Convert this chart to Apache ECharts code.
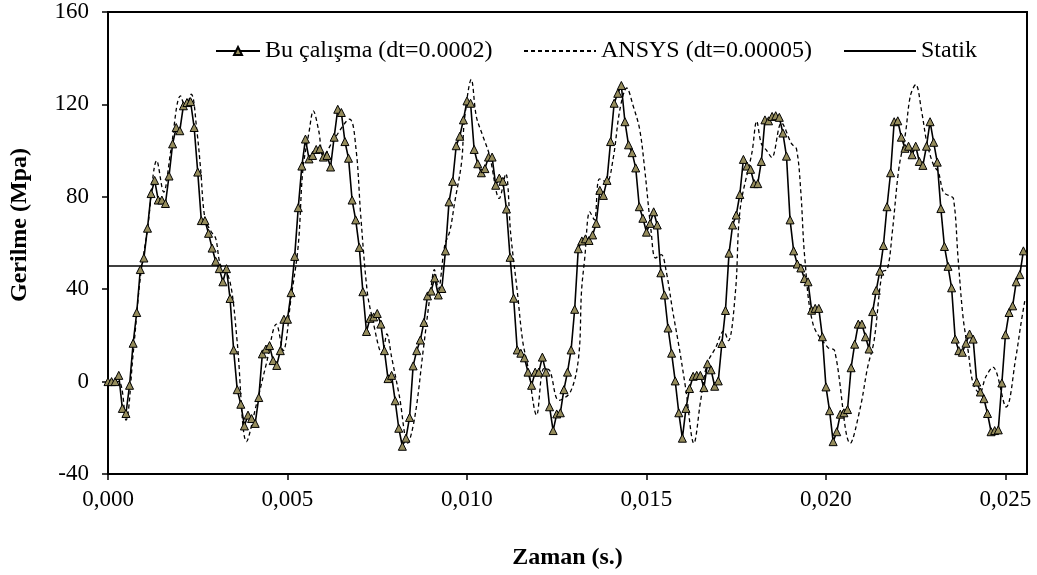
<!DOCTYPE html>
<html>
<head>
<meta charset="utf-8">
<title>Gerilme - Zaman</title>
<script src="https://cdn.jsdelivr.net/npm/echarts@6/dist/echarts.min.js"></script>
<style>
  html, body { margin: 0; padding: 0; background: #fff; }
  #chart { width: 1037px; height: 575px; }
</style>
</head>
<body>
<div id="chart"></div>
<script>
// zaman ekseni ms cinsinden tutuluyor, etiketler saniyeye çevriliyor
const studyTime = [
  0, 0.1, 0.2, 0.3, 0.4, 0.5, 0.6, 0.7, 0.8, 0.9,
  1.0, 1.1, 1.2, 1.3, 1.4, 1.5, 1.6, 1.7, 1.8, 1.9,
  2.0, 2.1, 2.2, 2.3, 2.4, 2.5, 2.6, 2.7, 2.8, 2.9,
  3.0, 3.1, 3.2, 3.3, 3.4, 3.5, 3.6, 3.7, 3.8, 3.9,
  4.0, 4.1, 4.2, 4.3, 4.4, 4.5, 4.6, 4.7, 4.8, 4.9,
  5.0, 5.1, 5.2, 5.3, 5.4, 5.5, 5.6, 5.7, 5.8, 5.9,
  6.0, 6.1, 6.2, 6.3, 6.4, 6.5, 6.6, 6.7, 6.8, 6.9,
  7.0, 7.1, 7.2, 7.3, 7.4, 7.5, 7.6, 7.7, 7.8, 7.9,
  8.0, 8.1, 8.2, 8.3, 8.4, 8.5, 8.6, 8.7, 8.8, 8.9,
  9.0, 9.1, 9.2, 9.3, 9.4, 9.5, 9.6, 9.7, 9.8, 9.9,
  10.0, 10.1, 10.2, 10.3, 10.4, 10.5, 10.6, 10.7, 10.8, 10.9,
  11.0, 11.1, 11.2, 11.3, 11.4, 11.5, 11.6, 11.7, 11.8, 11.9,
  12.0, 12.1, 12.2, 12.3, 12.4, 12.5, 12.6, 12.7, 12.8, 12.9,
  13.0, 13.1, 13.2, 13.3, 13.4, 13.5, 13.6, 13.7, 13.8, 13.9,
  14.0, 14.1, 14.2, 14.3, 14.4, 14.5, 14.6, 14.7, 14.8, 14.9,
  15.0, 15.1, 15.2, 15.3, 15.4, 15.5, 15.6, 15.7, 15.8, 15.9,
  16.0, 16.1, 16.2, 16.3, 16.4, 16.5, 16.6, 16.7, 16.8, 16.9,
  17.0, 17.1, 17.2, 17.3, 17.4, 17.5, 17.6, 17.7, 17.8, 17.9,
  18.0, 18.1, 18.2, 18.3, 18.4, 18.5, 18.6, 18.7, 18.8, 18.9,
  19.0, 19.1, 19.2, 19.3, 19.4, 19.5, 19.6, 19.7, 19.8, 19.9,
  20.0, 20.1, 20.2, 20.3, 20.4, 20.5, 20.6, 20.7, 20.8, 20.9,
  21.0, 21.1, 21.2, 21.3, 21.4, 21.5, 21.6, 21.7, 21.8, 21.9,
  22.0, 22.1, 22.2, 22.3, 22.4, 22.5, 22.6, 22.7, 22.8, 22.9,
  23.0, 23.1, 23.2, 23.3, 23.4, 23.5, 23.6, 23.7, 23.8, 23.9,
  24.0, 24.1, 24.2, 24.3, 24.4, 24.5, 24.6, 24.7, 24.8, 24.9,
  25.0, 25.1, 25.2, 25.3, 25.4, 25.5
]
const studyStress = [
  0, 0, 0, 2.7, -11.6, -13.8, -1.6, 16.6, 29.9, 48.5,
  53.5, 66.4, 81.4, 87.1, 78.6, 78.6, 77.1, 89, 102.9, 110,
  108.6, 119.4, 120.8, 121.2, 110, 90.7, 69.7, 69.7, 64.2, 57.8,
  52.1, 48.9, 43.2, 48.9, 36, 13.7, -3.5, -9.8, -19.2, -14.5,
  -16, -18.1, -6.9, 12, 14.1, 15.6, 9.1, 7, 13.4, 27,
  27, 38.5, 54.2, 75.3, 93.3, 105, 96.4, 97.9, 100.5, 100.8,
  97.2, 97.9, 92.9, 105.8, 117.9, 116.5, 103.9, 96.7, 78.6, 70,
  58.1, 38.9, 21.7, 27.4, 28, 29.5, 24.9, 13.4, 1.3, 2.7,
  -8.3, -20.2, -28, -24.5, -15.5, 6.8, 13.4, 18, 25.6, 37.1,
  39.2, 44.9, 37.5, 40.3, 56.6, 77.8, 86.7, 102.1, 106.2, 113.3,
  121.5, 120.5, 100.5, 94.3, 90.4, 92.2, 97.2, 97.2, 85, 88.1,
  86.7, 74.7, 53.8, 36.1, 13.7, 12.3, 10.3, 4.1, -1.6, 4.1,
  4.1, 10.6, 4.1, -10.9, -21.2, -14, -13.5, -3.5, 4.1, 13.7,
  31.3, 57.5, 60.9, 61.8, 61.1, 63.5, 68.5, 82.8, 80.6, 87.1,
  103.9, 120.5, 124.8, 128.2, 112.5, 102.5, 99.1, 92.5, 75.7, 70.7,
  64.7, 68.5, 73.5, 67.8, 47.1, 37.5, 23.2, 12.3, 0.3, -13.5,
  -24.5, -11.6, -3, 2.3, 2.7, 2.7, -2.6, 7.7, 5.1, -2,
  0.3, 16.5, 30.8, 55.6, 67.8, 72.1, 81, 96.2, 93.3, 91.9,
  85.7, 85.7, 95.3, 113.3, 112.9, 114.8, 115.1, 114.4, 107.6, 97.6,
  70, 56.6, 50.9, 49.2, 44.6, 43.2, 30.9, 31.7, 31.7, 19.4,
  -2.3, -12.6, -26, -21.7, -14.1, -13.5, -12.1, 6, 16.2, 24.9,
  24.9, 19.4, 14.1, 30.3, 39.5, 47.8, 58.9, 75.7, 90.4, 112.5,
  112.9, 105.8, 101, 101.9, 98.2, 101.9, 95.3, 93.6, 101.9, 112.5,
  103.6, 95, 74.9, 58.5, 49.9, 40.6, 18.4, 13.4, 12.7, 16.6,
  20.6, 18.4, -0.2, -4.5, -7.4, -13.8, -21.7, -21.2, -20.9, -0.6,
  20.3, 29.9, 32.8, 43.2, 46.3, 56.6
]

const ansysTime = [
  0, 0.3, 0.5, 0.7, 0.9, 1.1, 1.36, 1.55, 1.75, 2.02,
  2.16, 2.32, 2.48, 2.58, 2.7, 2.87, 3.0, 3.13, 3.3, 3.45,
  3.6, 3.86, 4.14, 4.41, 4.69, 4.88, 5.1, 5.3, 5.43, 5.6,
  5.72, 5.87, 6.0, 6.3, 6.73, 6.91, 7.04, 7.22, 7.36, 7.64,
  7.77, 7.9, 8.12, 8.35, 8.55, 8.79, 9.0, 9.09, 9.2, 9.38,
  9.52, 9.66, 9.85, 9.93, 10.12, 10.26, 10.44, 10.63, 10.9, 11.08,
  11.22, 11.4, 11.55, 11.7, 11.94, 12.14, 12.3, 12.56, 12.88, 13.11,
  13.19, 13.28, 13.42, 13.55, 13.69, 13.89, 14.07, 14.26, 14.45, 14.63,
  14.81, 14.95, 15.13, 15.25, 15.41, 15.55, 15.73, 15.91, 16.1, 16.32,
  16.51, 16.69, 16.93, 17.15, 17.28, 17.48, 17.61, 17.94, 18.07, 18.2,
  18.35, 18.49, 18.76, 19.04, 19.18, 19.3, 19.41, 19.64, 20.05, 20.24,
  20.68, 20.96, 21.16, 21.34, 21.57, 21.71, 21.85, 22.03, 22.21, 22.35,
  22.5, 22.67, 22.81, 23.0, 23.13, 23.27, 23.41, 23.55, 23.68, 23.82,
  23.96, 24.1, 24.28, 24.45, 24.65, 25.02, 25.29, 25.43, 25.55
]
const ansysStress = [
  0, 0, -16.7, 12, 45, 66, 95.7, 82, 100, 123.7,
  119, 124.4, 107.9, 92, 70.7, 65, 62, 50.6, 47.7, 39,
  17, -26, -9.5, 7.7, 24.9, 13.4, 36.3, 59, 92, 108,
  117.2, 108.6, 97.9, 105, 113.6, 100.5, 71.9, 39.2, 27.7, 12,
  20.6, 10.6, -6.6, -26.6, -15, 14.8, 40.6, 48.5, 40, 59,
  65, 77.8, 95, 113.5, 130.8, 114.8, 106.4, 97.9, 79.3, 90,
  63.5, 39.2, 17.7, 6.2, -14.5, 5.6, 4.9, -8.1, -4.5, 10.6,
  39, 53.4, 73.5, 70, 87.8, 86.4, 96.4, 117.8, 127.1, 119.3,
  109.2, 92, 65, 53.5, 55, 47.7, 30.6, 14.8, -3.8, -26.7,
  -8.1, 7.7, 14.8, 21.9, 17.7, 39.2, 74.7, 99.3, 112.7, 103,
  100, 97, 112, 103, 100.6, 82, 53.5, 24.9, 14.8, 13.4,
  -26.7, -11, 6.2, 17.7, 47.5, 48.5, 65, 92.2, 107, 123.6,
  128.6, 116.5, 103.6, 93.6, 90.7, 82, 80.6, 79.3, 53.5, 27.7,
  13.4, -0.9, -5, 2, 6.3, -11, 10.6, 24.9, 36
]

const staticTime = [0, 25.6]
const staticStress = [50, 50]

const xTickValues = [0, 5, 10, 15, 20, 25]
const xTickLabels = ['0,000', '0,005', '0,010', '0,015', '0,020', '0,025']

const zip = (xs, ys) => xs.map((x, i) => [x, ys[i]])
const font = 'Liberation Serif'
const seriesNames = ['Bu çalışma (dt=0.0002)', 'ANSYS (dt=0.00005)', 'Statik']

// her lejant öğesi ayrı konumlanıyor
const legendItem = (name, left, itemWidth, hideSymbol) => ({
  left,
  top: 34,
  itemWidth,
  itemHeight: 10,
  textStyle: { fontFamily: font, fontSize: 24, color: '#000' },
  data: [hideSymbol ? { name, itemStyle: { opacity: 0 } } : { name }]
})

const myChart = echarts.init(document.getElementById('chart'))
myChart.setOption({
  animation: false,
  backgroundColor: '#fff',
  textStyle: { fontFamily: font, color: '#000' },
  grid: {
    left: 100,
    right: 10,
    top: 12,
    bottom: 97,
    show: true,
    borderColor: '#000',
    borderWidth: 2,
    backgroundColor: 'transparent'
  },
  legend: [
    legendItem(seriesNames[0], 210, 44, false),
    legendItem(seriesNames[1], 518, 72, true),
    legendItem(seriesNames[2], 838, 72, true)
  ],
  xAxis: {
    type: 'value',
    min: 0,
    max: 25.6,
    name: 'Zaman (s.)',
    nameLocation: 'middle',
    nameGap: 72,
    nameTextStyle: { fontFamily: font, fontSize: 24, fontWeight: 'bold', color: '#000' },
    axisLine: { onZero: false, lineStyle: { color: '#000', width: 2 } },
    axisTick: { inside: false, length: 6, customValues: xTickValues, lineStyle: { color: '#000', width: 1.5 } },
    axisLabel: {
      customValues: xTickValues,
      margin: 14,
      fontFamily: font,
      fontSize: 23,
      color: '#000',
      formatter: v => xTickLabels[xTickValues.indexOf(v)] ?? ''
    },
    splitLine: { show: false }
  },
  yAxis: {
    type: 'value',
    min: -40,
    max: 160,
    interval: 40,
    name: 'Gerilme (Mpa)',
    nameLocation: 'middle',
    nameGap: 76,
    nameTextStyle: {
      fontFamily: font,
      fontSize: 24,
      fontWeight: 'bold',
      color: '#000',
      padding: [0, 0, 0, 36]
    },
    axisLine: { show: true, onZero: false, lineStyle: { color: '#000', width: 2 } },
    axisTick: { show: true, inside: false, length: 6, lineStyle: { color: '#000', width: 1.5 } },
    axisLabel: { margin: 19, fontFamily: font, fontSize: 23, color: '#000' },
    splitLine: { show: false }
  },
  series: [{
    name: seriesNames[0],
    type: 'line',
    data: zip(studyTime, studyStress),
    symbol: 'triangle',
    symbolSize: 8,
    lineStyle: { color: '#000', width: 1.6 },
    itemStyle: { color: '#958c5c', borderColor: '#000', borderWidth: 1 },
    z: 4
  }, {
    name: seriesNames[1],
    type: 'line',
    data: zip(ansysTime, ansysStress),
    symbol: 'none',
    smooth: 0.35,
    lineStyle: { color: '#000', width: 1.3, type: [4, 3] },
    itemStyle: { color: '#000' },
    z: 3
  }, {
    name: seriesNames[2],
    type: 'line',
    data: zip(staticTime, staticStress),
    symbol: 'none',
    lineStyle: { color: '#000', width: 1.5 },
    itemStyle: { color: '#000' },
    z: 2
  }]
})
</script>
</body>
</html>
